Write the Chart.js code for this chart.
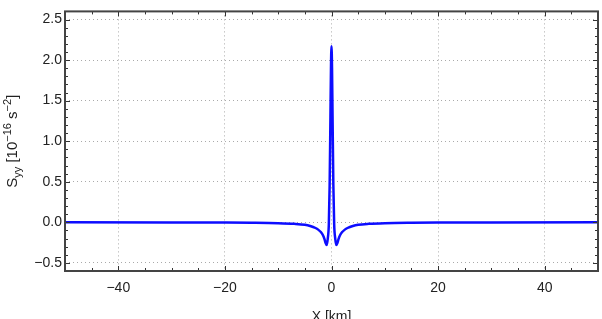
<!DOCTYPE html>
<html>
<head>
    <title>Syy profile</title>
    <script src="https://cdn.jsdelivr.net/npm/chart.js"></script>
    <style>
        body { margin: 0; background: #fff; }
    </style>
</head>
<body>
    <canvas id="syyChart" width="602" height="319"></canvas>

    <script>
        // values
        const xKm = [-50, -30, -20, -15, -10, -7, -5, -4, -3, -2.5, -2, -1.6, -1.3, -1.1, -0.9, -0.7, -0.5, -0.35, -0.2, -0.1, 0,
                     0.1, 0.2, 0.35, 0.5, 0.7, 0.9, 1.1, 1.3, 1.6, 2, 2.5, 3, 4, 5, 7, 10, 15, 20, 30, 50];
        const syy = [0.0, -0.002, -0.003, -0.005, -0.01, -0.018, -0.03, -0.045, -0.07, -0.09, -0.12, -0.16, -0.21, -0.255, -0.28, -0.2, -0.02, 0.45, 1.3, 1.9, 2.17,
                     1.9, 1.3, 0.45, -0.02, -0.2, -0.28, -0.255, -0.21, -0.16, -0.12, -0.09, -0.07, -0.045, -0.03, -0.018, -0.01, -0.005, -0.003, -0.002, 0.0];
        const xTicks = [-40, -20, 0, 20, 40];
        const yTicks = [-0.5, 0.0, 0.5, 1.0, 1.5, 2.0, 2.5];

        const fmt = v => (v < 0 ? '\u2212' : '') + Math.abs(v);
        const fmtY = v => (v < 0 ? '\u2212' : '') + Math.abs(v).toFixed(1);

        // inward ticks on all four sides + frame + axis titles
        const frameTicks = {
            id: 'frameTicks',
            afterDatasetsDraw(chart) {
                const {ctx, chartArea: a, scales: {x, y}} = chart;
                ctx.save();
                ctx.strokeStyle = '#333';
                ctx.lineWidth = 1;
                ctx.beginPath();
                for (let v = -50; v <= 50; v += 5) {
                    const p = Math.round(x.getPixelForValue(v)) + 0.5;
                    const len = xTicks.includes(v) ? 5 : 3;
                    ctx.moveTo(p, a.bottom); ctx.lineTo(p, a.bottom - len);
                    ctx.moveTo(p, a.top); ctx.lineTo(p, a.top + len);
                }
                for (let i = -6; i <= 26; i++) {
                    const v = i / 10;
                    const p = Math.round(y.getPixelForValue(v)) + 0.5;
                    const len = (i % 5 === 0) ? 5 : 3;
                    ctx.moveTo(a.left, p); ctx.lineTo(a.left + len, p);
                    ctx.moveTo(a.right, p); ctx.lineTo(a.right - len, p);
                }
                ctx.stroke();
                ctx.strokeStyle = '#444';
                ctx.lineWidth = 2;
                ctx.strokeRect(a.left, a.top, a.right - a.left, a.bottom - a.top);

                // x title
                ctx.fillStyle = '#222';
                ctx.font = '14px "Liberation Sans", Arial, sans-serif';
                ctx.textAlign = 'center';
                ctx.textBaseline = 'alphabetic';
                ctx.fillText('X [km]', (a.left + a.right) / 2, 321);

                // y title with sub/superscripts
                const big = '15px "Liberation Sans", Arial, sans-serif';
                const small = '11px "Liberation Sans", Arial, sans-serif';
                const parts = [
                    ['S', big, 0], ['yy', small, 4], [' [10', big, 0], ['\u221216', small, -6],
                    [' s', big, 0], ['\u22122', small, -6], [']', big, 0]
                ];
                let total = 0;
                parts.forEach(p => { ctx.font = p[1]; total += ctx.measureText(p[0]).width; });
                ctx.translate(17, (a.top + a.bottom) / 2);
                ctx.rotate(-Math.PI / 2);
                ctx.textAlign = 'left';
                ctx.textBaseline = 'alphabetic';
                let cx = -total / 2;
                parts.forEach(p => {
                    ctx.font = p[1];
                    ctx.fillText(p[0], cx, p[2]);
                    cx += ctx.measureText(p[0]).width;
                });
                ctx.restore();
            }
        };

        const ctx = document.getElementById('syyChart').getContext('2d');
        const chart = new Chart(ctx, {
            type: 'line',
            data: {
                datasets: [{
                    data: xKm.map((v, i) => ({x: v, y: syy[i]})),
                    borderColor: '#0d0dff',
                    borderWidth: 2.5,
                    pointRadius: 0,
                    cubicInterpolationMode: 'monotone',
                    fill: false
                }]
            },
            options: {
                responsive: false,
                animation: false,
                layout: { padding: { left: 0, right: 4, top: 4, bottom: 0 } },
                plugins: { legend: { display: false }, tooltip: { enabled: false } },
                scales: {
                    x: {
                        type: 'linear',
                        min: -50,
                        max: 50,
                        afterBuildTicks: s => { s.ticks = xTicks.map(v => ({value: v})); },
                        afterFit: s => { s.height = 48; },
                        grid: { color: '#aaa', lineWidth: 1, drawTicks: false },
                        border: { display: false, dash: [1, 3] },
                        ticks: {
                            padding: 9,
                            color: '#222',
                            font: { family: '"Liberation Sans", Arial, sans-serif', size: 14 },
                            callback: v => fmt(v)
                        }
                    },
                    y: {
                        min: -0.6,
                        max: 2.6,
                        afterBuildTicks: s => { s.ticks = yTicks.map(v => ({value: v})); },
                        afterFit: s => { s.width = 65; },
                        grid: { color: '#aaa', lineWidth: 1, drawTicks: false },
                        border: { display: false, dash: [1, 3] },
                        ticks: {
                            padding: 3,
                            color: '#222',
                            font: { family: '"Liberation Sans", Arial, sans-serif', size: 14 },
                            callback: v => fmtY(v)
                        }
                    }
                }
            },
            plugins: [frameTicks]
        });
    </script>
</body>
</html>
